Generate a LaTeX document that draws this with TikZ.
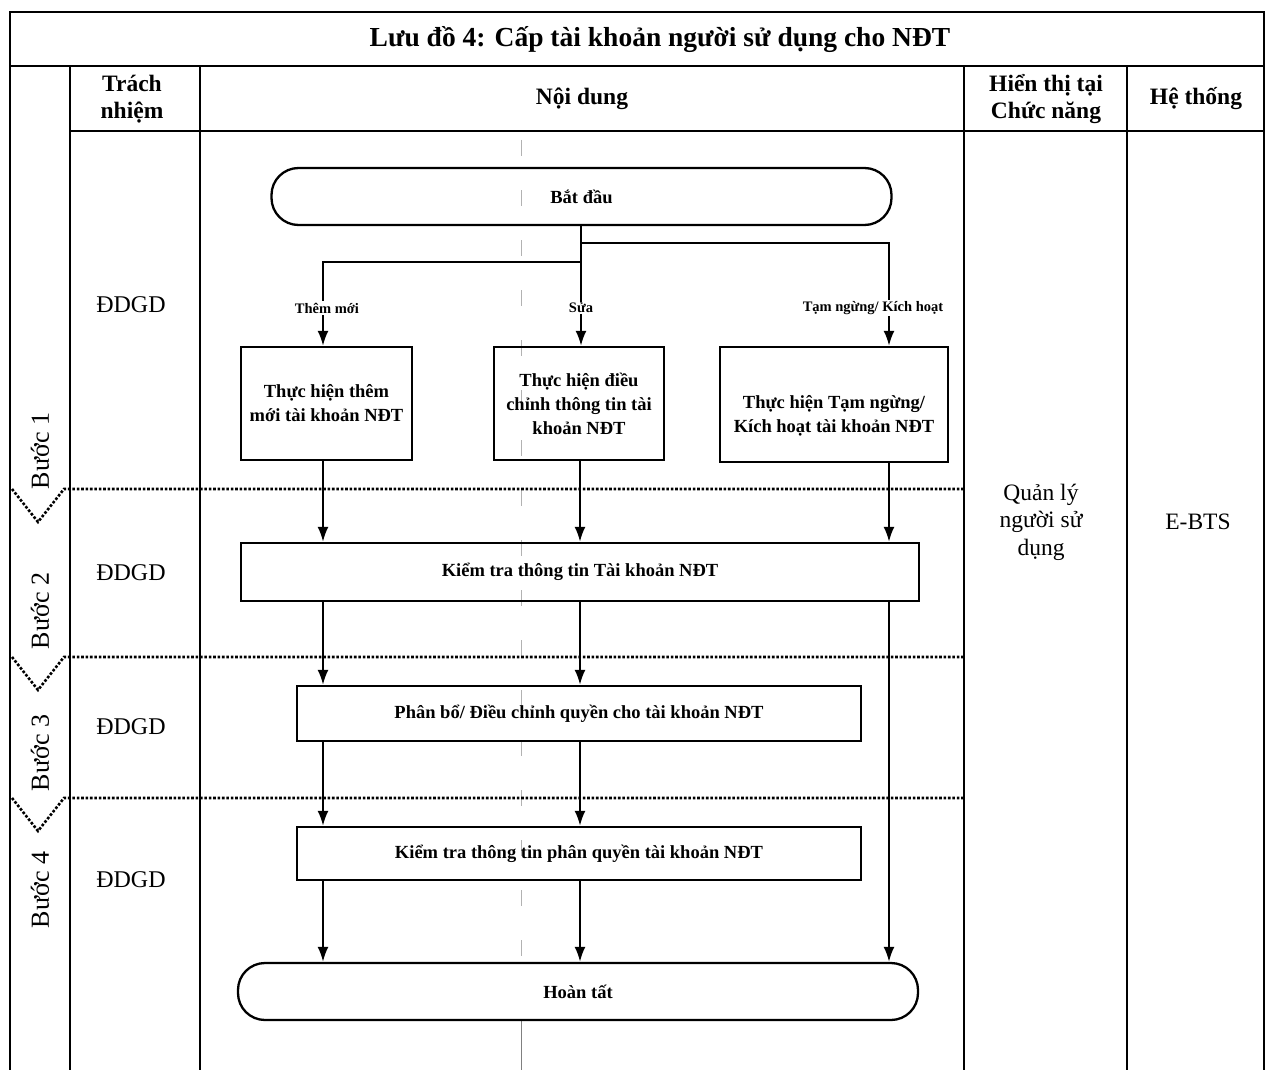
\documentclass[tikz,border=0pt]{standalone}
\usepackage{fontspec}
\setmainfont{Liberation Serif}
\usetikzlibrary{arrows.meta}
\begin{document}
\begin{tikzpicture}[x=1pt,y=-1pt,
  frame/.style={line width=2.8pt},
  grid/.style={line width=2.5pt},
  stageline/.style={line width=2.6pt, dash pattern=on 2.6pt off 1.8pt},
  box/.style={draw, line width=2.3pt, align=center,
    font=\fontsize{18.5}{24}\selectfont\bfseries, inner sep=2pt},
  term/.style={box, rounded corners=27pt},
  flow/.style={line width=2.2pt, -{Latex[length=15pt,width=11pt]}},
  link/.style={line width=2.2pt},
  branch/.style={fill=white, inner sep=1.5pt, font=\fontsize{14.5}{16}\selectfont\bfseries},
  head/.style={align=center, font=\fontsize{23.5}{27}\selectfont\bfseries},
  cell/.style={align=center, font=\fontsize{23.5}{27.5}\selectfont},
  who/.style={font=\fontsize{24}{28}\selectfont},
  stage/.style={rotate=90, font=\fontsize{26}{30}\selectfont},
  guide/.style={line width=0.7pt, black!30},
]
\useasboundingbox[fill=white] (0,0) rectangle (1266,1070);

% faint centre guide of the content column
\draw[guide, dash pattern=on 16pt off 34pt] (521,140) -- (521,963);
\draw[guide, black!50] (521,1020) -- (521,1070);

% table frame and column rules
\draw[frame] (10,1070) -- (10,12) -- (1264,12) -- (1264,1070);
\draw[frame] (10,66) -- (1264,66);
\draw[frame] (70,131) -- (1264,131);
\draw[grid] (70,66) -- (70,1070);
\draw[grid] (200,66) -- (200,1070);
\draw[grid] (964,66) -- (964,1070);
\draw[grid] (1127,66) -- (1127,1070);

% title and headers
\node[font=\fontsize{27.5}{30}\selectfont\bfseries] (title) at (660,40)
  {Lưu đồ 4: Cấp tài khoản người sử dụng cho NĐT};
\node[head] (hWho) at (132,99) {Trách\\nhiệm};
\node[head] (hContent) at (582,99) {Nội dung};
\node[head] (hFunc) at (1046,99) {Hiển thị tại\\Chức năng};
\node[head] (hSys) at (1196,99) {Hệ thống};

% stage separators with chevrons
\foreach \y in {489,657,798}
  \draw[stageline] (12,\y) -- (38,\y+33) -- (64,\y) -- (964,\y);

% stage labels and responsibilities
\node[stage] (s1) at (40,451) {Bước 1};
\node[stage] (s2) at (40,611) {Bước 2};
\node[stage] (s3) at (40,753) {Bước 3};
\node[stage] (s4) at (40,890) {Bước 4};
\node[who] (r1) at (131,305) {ĐDGD};
\node[who] (r2) at (131,573) {ĐDGD};
\node[who] (r3) at (131,727) {ĐDGD};
\node[who] (r4) at (131,880) {ĐDGD};

% function and system cells
\node[cell] (func) at (1041,522) {Quản lý\\người sử\\dụng};
\node[cell] (sys) at (1198,522) {E-BTS};

% flowchart nodes
\node[term, minimum width=620pt, minimum height=57pt] (start) at (581.5,196.5) {Bắt đầu};
\node[box, minimum width=171pt, minimum height=113pt] (add) at (326.5,403.5)
  {Thực hiện thêm\\mới tài khoản NĐT};
\node[box, minimum width=170pt, minimum height=113pt] (edit) at (579,403.5)
  {Thực hiện điều\\chỉnh thông tin tài\\khoản NĐT};
\node[box, minimum width=228pt, minimum height=115pt] (toggle) at (834,404.5) {};
\node[align=center, font=\fontsize{18.5}{24}\selectfont\bfseries] (toggleText) at (834,416)
  {Thực hiện Tạm ngừng/\\Kích hoạt tài khoản NĐT};
\node[box, minimum width=678pt, minimum height=58pt] (check) at (580,572)
  {Kiểm tra thông tin Tài khoản NĐT};
\node[box, minimum width=564pt, minimum height=55pt] (grant) at (579,713.5)
  {Phân bổ/ Điều chỉnh quyền cho tài khoản NĐT};
\node[box, minimum width=564pt, minimum height=53pt] (verify) at (579,853.5)
  {Kiểm tra thông tin phân quyền tài khoản NĐT};
\node[term, minimum width=680pt, minimum height=57pt] (finish) at (578,991.5) {Hoàn tất};

% column positions of the connectors
\coordinate (cL) at (323,0);
\coordinate (cM) at (580,0);
\coordinate (cR) at (889,0);
\coordinate (j1) at (581,243);
\coordinate (j2) at (581,262);

% branching from the start
\draw[link] (start.south -| j1) -- (j1);
\draw[flow] (j1) -| (toggle.north -| cR);
\draw[link] (j1) -- (j2);
\draw[flow] (j2) -| (add.north -| cL);
\draw[flow] (j2) -- (edit.north -| j2);
\node[branch] (lAdd) at (327,308) {Thêm mới};
\node[branch] (lEdit) at (581,308) {Sửa};
\node[branch] (lToggle) at (873,308) {Tạm ngừng/ Kích hoạt};

% into the account check
\draw[flow] (add.south -| cL) -- (check.north -| cL);
\draw[flow] (edit.south -| cM) -- (check.north -| cM);
\draw[flow] (toggle.south -| cR) -- (check.north -| cR);

% down through the remaining steps
\draw[flow] (check.south -| cL) -- (grant.north -| cL);
\draw[flow] (check.south -| cM) -- (grant.north -| cM);
\draw[flow] (check.south -| cR) -- (finish.north -| cR);
\draw[flow] (grant.south -| cL) -- (verify.north -| cL);
\draw[flow] (grant.south -| cM) -- (verify.north -| cM);
\draw[flow] (verify.south -| cL) -- (finish.north -| cL);
\draw[flow] (verify.south -| cM) -- (finish.north -| cM);
\end{tikzpicture}
\end{document}
